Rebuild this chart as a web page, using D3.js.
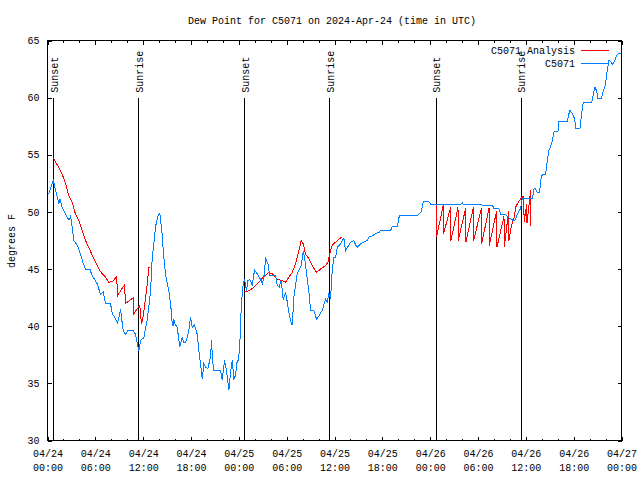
<!DOCTYPE html>
<html><head><meta charset="utf-8">
<script src="https://cdn.jsdelivr.net/npm/d3@7"></script>
<style>
body{margin:0;background:#fff}
svg{display:block}
text{font-family:"Liberation Mono","DejaVu Sans Mono",monospace;font-size:10px;fill:#000}
</style></head><body>
<svg id="c" width="640" height="480"></svg>
<script>
const title = "Dew Point for C5071 on 2024-Apr-24 (time in UTC)";
const yLabel = "degrees F";
const seriesNames = ["C5071 Analysis", "C5071"];
const seriesColors = ["#ff0000", "#0080ff"];
const yTicks = [30, 35, 40, 45, 50, 55, 60, 65];
const startTime = Date.UTC(2024, 3, 24, 0, 0);
const spanHours = 72;
// hours since 04/24 00:00 UTC
const sunEventHours = [0.79, 11.45, 24.75, 35.42, 48.77, 59.45];
const sunEventNames = ["Sunset", "Sunrise", "Sunset", "Sunrise", "Sunset", "Sunrise"];

// [hours since start, deg F]; null = gap
const analysisSeries = [
[0.79,54.7],[1.0,54.35],[1.42,53.9],[1.84,53.3],[2.26,52.5],[2.67,51.4],[3.10,50.85],[3.51,49.8],[3.93,49.25],[4.35,48.4],[4.77,47.5],[5.18,46.9],[5.61,46.2],[6.02,45.6],[6.44,45.0],[6.86,44.6],[7.28,44.3],[7.69,43.85],[8.12,43.9],[8.66,44.3],[8.82,42.7],[9.16,43.1],[9.66,43.6],[9.79,42.0],[10.75,42.5],[10.83,41.1],[11.46,41.7],[11.58,41.8],[11.79,40.2],[12.01,40.9],[12.30,42.5],[12.51,43.7],[12.71,45.1],[12.84,45.1],[18,null],
[24.72,43.0],[25.26,43.1],[25.88,43.4],[26.51,43.85],[27.14,44.35],[27.77,44.7],[28.19,44.6],[28.82,44.1],[29.45,44.0],[29.86,43.85],[30.28,44.3],[30.70,44.7],[31.12,45.5],[31.53,46.6],[31.83,47.5],[32.08,47.2],[32.37,46.3],[32.79,45.9],[33.21,45.3],[33.75,44.7],[34.25,45.0],[34.88,45.3],[35.17,45.6],[35.51,46.6],[35.72,47.1],[36.14,47.35],[36.55,47.6],[36.98,47.85],[42,null],
[48.77,50.6],[48.80,47.8],[49.65,50.6],[49.68,48.1],[50.57,50.4],[50.60,47.5],[51.49,50.4],[51.52,47.5],[52.45,50.3],[52.48,47.35],[53.42,50.4],[53.45,47.5],[54.42,50.3],[54.45,47.2],[55.38,50.3],[55.41,47.05],[56.34,50.1],[56.37,46.9],[57.26,49.6],[57.29,46.9],[57.85,50.1],[57.88,47.5],[58.20,48.8],[58.51,49.4],[58.72,50.4],[58.93,50.7],[59.34,51.15],[59.75,51.4],[59.78,49.1],[60.11,50.7],[60.14,49.0],[60.60,51.9],[60.63,48.8]
];

const obsSeries = [
[0.16,51.6],[0.44,52.2],[0.72,52.8],[1.0,51.9],[1.19,51.4],[1.42,50.7],[1.57,51.1],[1.84,50.4],[2.13,50.0],[2.47,49.5],[2.70,49.3],[2.89,49.6],[3.10,48.7],[3.30,47.5],[3.73,47.1],[3.95,46.7],[4.14,46.3],[4.48,45.5],[4.77,45.0],[5.31,45.0],[5.61,44.4],[5.90,44.1],[6.24,43.7],[6.65,42.8],[6.99,43.0],[7.28,42.0],[7.90,42.0],[8.12,41.1],[8.41,40.8],[8.75,40.3],[8.91,40.6],[9.16,41.5],[9.35,40.4],[9.50,39.6],[9.79,39.3],[10.08,39.6],[10.75,39.6],[11.04,39.3],[11.25,38.5],[11.46,37.8],[11.67,38.75],[12.08,39.0],[12.30,39.8],[12.51,40.6],[12.73,41.8],[12.92,43.0],[13.14,46.0],[13.34,47.2],[13.55,48.7],[13.80,49.5],[13.97,49.8],[14.09,49.9],[14.39,48.0],[14.55,46.3],[14.81,44.5],[15.22,43.1],[15.52,41.4],[15.65,40.2],[15.75,40.0],[15.85,40.6],[16.0,40.2],[16.27,39.9],[16.44,39.0],[16.60,38.2],[16.90,39.0],[17.06,38.6],[17.31,38.6],[17.50,39.0],[17.73,39.6],[17.94,40.8],[18.16,39.9],[18.44,40.1],[18.78,39.3],[18.98,37.9],[19.20,36.7],[19.41,35.4],[19.61,36.7],[19.82,36.4],[20.11,36.3],[20.45,37.3],[20.58,38.75],[20.70,37.0],[20.87,36.1],[21.71,36.1],[21.92,35.3],[22.21,37.0],[22.46,36.1],[22.75,34.4],[22.96,36.0],[23.17,37.0],[23.38,35.4],[23.59,35.7],[23.80,37.0],[23.96,37.0],[24.13,38.5],[24.30,41.7],[24.43,42.8],[24.55,43.7],[24.72,44.1],[24.97,43.1],[25.13,44.0],[25.38,44.1],[25.68,43.6],[25.97,44.9],[26.31,44.6],[26.73,44.1],[26.94,43.7],[27.14,44.3],[27.36,45.9],[27.64,45.5],[27.89,44.4],[28.61,44.4],[28.82,43.6],[29.05,43.4],[29.32,44.0],[29.57,42.3],[29.86,43.0],[30.08,42.1],[30.28,41.2],[30.49,40.5],[30.70,40.1],[30.90,42.5],[31.12,43.6],[31.33,44.6],[31.53,44.9],[31.83,45.3],[32.08,46.6],[32.25,46.0],[32.50,44.6],[32.79,43.0],[33.00,41.4],[33.41,41.4],[33.75,40.6],[34.04,40.9],[34.47,41.4],[34.88,42.4],[35.09,42.1],[35.29,42.8],[35.51,42.5],[35.72,45.0],[35.92,46.0],[36.14,46.0],[36.35,46.9],[36.76,47.2],[36.98,47.5],[37.18,47.7],[37.39,46.6],[37.80,47.1],[38.02,47.35],[38.43,47.5],[38.65,47.1],[38.86,46.9],[39.27,47.2],[39.69,47.35],[40.11,47.5],[40.31,47.8],[40.74,47.9],[41.15,48.1],[41.57,48.2],[41.78,48.4],[43.04,48.4],[43.25,48.7],[43.88,48.7],[44.08,49.5],[44.20,49.7],[46.39,49.7],[46.59,49.8],[46.89,50.0],[47.14,50.9],[47.84,50.9],[48.09,50.65],[51.82,50.65],[52.03,50.8],[52.2,50.65],[54.74,50.6],[55.80,50.6],[56.0,50.3],[56.63,50.3],[56.84,49.8],[57.47,49.8],[57.76,49.5],[58.09,49.4],[58.51,49.2],[58.66,49.3],[58.93,49.8],[59.34,50.3],[59.55,51.15],[60.81,51.15],[61.02,52.0],[61.17,52.1],[61.45,51.7],[61.73,51.7],[61.86,52.75],[62.07,53.3],[62.48,53.3],[62.70,54.5],[62.90,55.4],[63.11,55.7],[63.32,56.25],[63.45,56.7],[63.53,57.0],[64.03,57.0],[64.15,57.9],[65.21,57.9],[65.41,58.6],[65.53,58.9],[65.83,58.6],[66.12,58.15],[66.29,57.3],[66.79,57.3],[67.0,58.6],[67.21,59.6],[68.26,59.6],[68.47,60.3],[68.67,60.9],[68.88,60.6],[69.05,59.9],[69.47,59.9],[69.72,60.6],[70.01,61.2],[70.14,62.1],[70.42,63.25],[70.63,63.2],[70.85,62.9],[71.05,63.1],[71.47,63.8],[71.97,63.9]
];

const L = 47.5, R = 621.5, T = 40.5, B = 440.5;
const toDate = h => new Date(startTime + h * 3600e3);
const x = d3.scaleUtc().domain([toDate(0), toDate(spanHours)]).range([L, R]);
const y = d3.scaleLinear().domain([30, 65]).range([B, T]);
const svg = d3.select("#c");
const FONT = '"Liberation Mono","DejaVu Sans Mono",monospace';

// title
svg.append("text").attr("x", 332).attr("y", 24).attr("text-anchor", "middle").text(title);
// y label
svg.append("text").attr("transform", "translate(11,241) rotate(-90)")
  .attr("text-anchor", "middle").attr("dy", "0.35em").text(yLabel);

function styleAxis(g) {
  g.attr("font-family", FONT).attr("font-size", 10);
  g.select(".domain").remove();
  g.selectAll("line").attr("stroke", "#000").attr("shape-rendering", "crispEdges");
  g.selectAll("text").attr("fill", "#000");
}
const majorX = d3.utcHour.every(6).range(toDate(0), toDate(spanHours + 0.01));
const minorX = d3.utcHour.every(2).range(toDate(0), toDate(spanHours + 0.01));

// bottom axis, major + labels
const gb = svg.append("g").attr("transform", `translate(0,${B})`)
  .call(d3.axisBottom(x).tickValues(majorX).tickSizeInner(-4).tickSizeOuter(0).tickPadding(9));
styleAxis(gb);
const fD = d3.utcFormat("%m/%d"), fT = d3.utcFormat("%H:%M");
gb.selectAll(".tick text").each(function (d) {
  const t = d3.select(this); t.text(null);
  t.append("tspan").attr("x", 0).text(fD(d));
  t.append("tspan").attr("x", 0).attr("dy", "1.4em").text(fT(d));
});
styleAxis(svg.append("g").attr("transform", `translate(0,${B})`)
  .call(d3.axisBottom(x).tickValues(minorX).tickSizeInner(-2).tickSizeOuter(0).tickFormat("")));
// top axis
styleAxis(svg.append("g").attr("transform", `translate(0,${T})`)
  .call(d3.axisTop(x).tickValues(majorX).tickSizeInner(-4).tickSizeOuter(0).tickFormat("")));
styleAxis(svg.append("g").attr("transform", `translate(0,${T})`)
  .call(d3.axisTop(x).tickValues(minorX).tickSizeInner(-2).tickSizeOuter(0).tickFormat("")));
// left / right axes
styleAxis(svg.append("g").attr("transform", `translate(${L},0)`)
  .call(d3.axisLeft(y).tickValues(yTicks).tickSizeInner(-4).tickSizeOuter(0).tickPadding(8)));
styleAxis(svg.append("g").attr("transform", `translate(${R},0)`)
  .call(d3.axisRight(y).tickValues(yTicks).tickSizeInner(-4).tickSizeOuter(0).tickFormat("")));

// border
svg.append("rect").attr("x", L).attr("y", T).attr("width", R - L).attr("height", B - T)
  .attr("fill", "none").attr("stroke", "#000").attr("shape-rendering", "crispEdges");

// sunrise / sunset markers
sunEventHours.forEach((h, i) => {
  const px = x(toDate(h));
  svg.append("line").attr("x1", px).attr("x2", px).attr("y1", y(60)).attr("y2", y(30))
    .attr("stroke", "#000").attr("shape-rendering", "crispEdges");
  svg.append("text").attr("transform", `translate(${px + 0.5},${y(60) - 5}) rotate(-90)`)
    .attr("dy", "0.35em").text(sunEventNames[i]);
});

// series
const line = d3.line().defined(d => d[1] !== null)
  .x(d => x(toDate(d[0]))).y(d => y(d[1]));
svg.append("path").datum(analysisSeries).attr("d", line).attr("fill", "none")
  .attr("stroke", seriesColors[0]).attr("stroke-width", 1).attr("shape-rendering", "crispEdges");
svg.append("path").datum(obsSeries).attr("d", line).attr("fill", "none")
  .attr("stroke", seriesColors[1]).attr("stroke-width", 1).attr("shape-rendering", "crispEdges");

// legend
const legY = [50, 63];
seriesNames.forEach((n, i) => {
  svg.append("text").attr("x", 575).attr("y", legY[i]).attr("dy", "0.35em")
    .attr("text-anchor", "end").text(n);
  svg.append("line").attr("x1", 581).attr("x2", 609).attr("y1", legY[i] + 0.5).attr("y2", legY[i] + 0.5)
    .attr("stroke", seriesColors[i]).attr("shape-rendering", "crispEdges");
});
</script>
</body></html>
